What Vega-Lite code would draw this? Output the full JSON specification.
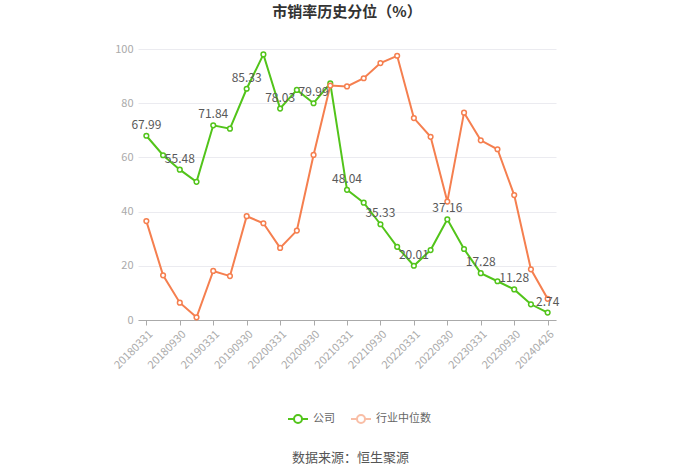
{
  "$schema": "https://vega.github.io/schema/vega-lite/v6.json",
  "width": 418,
  "height": 271,
  "autosize": {"type": "none"},
  "padding": {"left": 138, "top": 49, "right": 144, "bottom": 153},
  "background": "#ffffff",
  "title": {
    "text": "市销率历史分位（%）",
    "anchor": "middle",
    "frame": "group",
    "fontSize": 15,
    "fontWeight": "bold",
    "color": "#333333",
    "font": "Noto Sans CJK SC",
    "offset": 23
  },
  "config": {
    "view": {"stroke": null},
    "font": "Noto Sans CJK SC"
  },
  "datasets": {
    "rows": [
      {"date": "20180331", "s": "公司", "v": 67.99},
      {"date": "20180630", "s": "公司", "v": 60.8},
      {"date": "20180930", "s": "公司", "v": 55.48},
      {"date": "20181231", "s": "公司", "v": 51.0},
      {"date": "20190331", "s": "公司", "v": 71.84},
      {"date": "20190630", "s": "公司", "v": 70.6},
      {"date": "20190930", "s": "公司", "v": 85.33},
      {"date": "20191231", "s": "公司", "v": 98.0},
      {"date": "20200331", "s": "公司", "v": 78.03},
      {"date": "20200630", "s": "公司", "v": 84.9},
      {"date": "20200930", "s": "公司", "v": 79.99},
      {"date": "20201231", "s": "公司", "v": 87.3},
      {"date": "20210331", "s": "公司", "v": 48.04},
      {"date": "20210630", "s": "公司", "v": 43.3},
      {"date": "20210930", "s": "公司", "v": 35.33},
      {"date": "20211231", "s": "公司", "v": 27.0},
      {"date": "20220331", "s": "公司", "v": 20.01},
      {"date": "20220630", "s": "公司", "v": 25.8},
      {"date": "20220930", "s": "公司", "v": 37.16},
      {"date": "20221231", "s": "公司", "v": 26.2},
      {"date": "20230331", "s": "公司", "v": 17.28},
      {"date": "20230630", "s": "公司", "v": 14.3},
      {"date": "20230930", "s": "公司", "v": 11.28},
      {"date": "20231231", "s": "公司", "v": 5.8},
      {"date": "20240426", "s": "公司", "v": 2.74},
      {"date": "20180331", "s": "行业中位数", "v": 36.5},
      {"date": "20180630", "s": "行业中位数", "v": 16.5},
      {"date": "20180930", "s": "行业中位数", "v": 6.4},
      {"date": "20181231", "s": "行业中位数", "v": 1.0},
      {"date": "20190331", "s": "行业中位数", "v": 18.1},
      {"date": "20190630", "s": "行业中位数", "v": 16.2},
      {"date": "20190930", "s": "行业中位数", "v": 38.3},
      {"date": "20191231", "s": "行业中位数", "v": 35.7},
      {"date": "20200331", "s": "行业中位数", "v": 26.6},
      {"date": "20200630", "s": "行业中位数", "v": 33.0},
      {"date": "20200930", "s": "行业中位数", "v": 60.9},
      {"date": "20201231", "s": "行业中位数", "v": 86.5},
      {"date": "20210331", "s": "行业中位数", "v": 86.2},
      {"date": "20210630", "s": "行业中位数", "v": 89.2},
      {"date": "20210930", "s": "行业中位数", "v": 94.8},
      {"date": "20211231", "s": "行业中位数", "v": 97.5},
      {"date": "20220331", "s": "行业中位数", "v": 74.5},
      {"date": "20220630", "s": "行业中位数", "v": 67.6},
      {"date": "20220930", "s": "行业中位数", "v": 43.7},
      {"date": "20221231", "s": "行业中位数", "v": 76.5},
      {"date": "20230331", "s": "行业中位数", "v": 66.3},
      {"date": "20230630", "s": "行业中位数", "v": 63.0},
      {"date": "20230930", "s": "行业中位数", "v": 46.1},
      {"date": "20231231", "s": "行业中位数", "v": 18.7},
      {"date": "20240426", "s": "行业中位数", "v": 7.8}
    ]
  },
  "data": {"name": "rows"},
  "encoding": {
    "x": {
      "field": "date",
      "type": "ordinal",
      "sort": null,
      "scale": {"type": "point", "padding": 0.5},
      "axis": {
        "values": ["20180331", "20180930", "20190331", "20190930", "20200331", "20200930", "20210331", "20210930", "20220331", "20220930", "20230331", "20230930", "20240426"],
        "labelAngle": -45,
        "labelAlign": "right",
        "labelBaseline": "top",
        "labelColor": "#aaaaaa",
        "labelFontSize": 11,
        "labelPadding": 3,
        "domainColor": "#aaaaaa",
        "tickColor": "#aaaaaa",
        "tickSize": 5,
        "grid": false,
        "title": "数据来源：恒生聚源",
        "titleFontSize": 13,
        "titleFontWeight": "normal",
        "titleColor": "#555555",
        "titleX": 212,
        "titleY": 137,
        "titleAnchor": "middle",
        "titleAlign": "center",
        "titleBaseline": "middle"
      }
    },
    "y": {
      "field": "v",
      "type": "quantitative",
      "scale": {"domain": [0, 100], "nice": false},
      "axis": {
        "values": [0, 20, 40, 60, 80, 100],
        "title": null,
        "domain": false,
        "ticks": false,
        "labelColor": "#aaaaaa",
        "labelFontSize": 11,
        "labelPadding": 5,
        "gridColor": "#ebebf0",
        "gridWidth": 1
      }
    },
    "color": {
      "field": "s",
      "type": "nominal",
      "scale": {"domain": ["公司", "行业中位数"], "range": ["#52c41a", "#f57f4f"]},
      "legend": {
        "title": null,
        "orient": "none",
        "direction": "horizontal",
        "legendX": 149,
        "legendY": 359,
        "symbolType": "M-1,0L-0.4,0M0.4,0L1,0M0.4,0A0.4,0.4 0 1,1 -0.4,0A0.4,0.4 0 1,1 0.4,0",
        "symbolSize": 400,
        "symbolStrokeWidth": 2,
        "symbolFillColor": "#ffffff",
        "labelColor": "#666666",
        "labelFontSize": 11,
        "labelOffset": 4,
        "columnPadding": 12,
        "encode": {
          "symbols": {"update": {"opacity": {"signal": "datum.value === '行业中位数' ? 0.5 : 1"}}}
        }
      }
    }
  },
  "layer": [
    {
      "mark": {
        "type": "line",
        "strokeWidth": 2,
        "point": {"filled": false, "fill": "#ffffff", "size": 22, "strokeWidth": 1.5}
      }
    },
    {
      "transform": [
        {"filter": {"field": "s", "equal": "公司"}},
        {"filter": {"field": "date", "oneOf": ["20180331", "20180930", "20190331", "20190930", "20200331", "20200930", "20210331", "20210930", "20220331", "20220930", "20230331", "20230930", "20240426"]}}
      ],
      "mark": {"type": "text", "dy": -11, "fontSize": 12, "color": "#595959"},
      "encoding": {
        "text": {"field": "v", "type": "quantitative", "format": ".2f"},
        "color": {"value": "#595959"}
      }
    }
  ]
}
